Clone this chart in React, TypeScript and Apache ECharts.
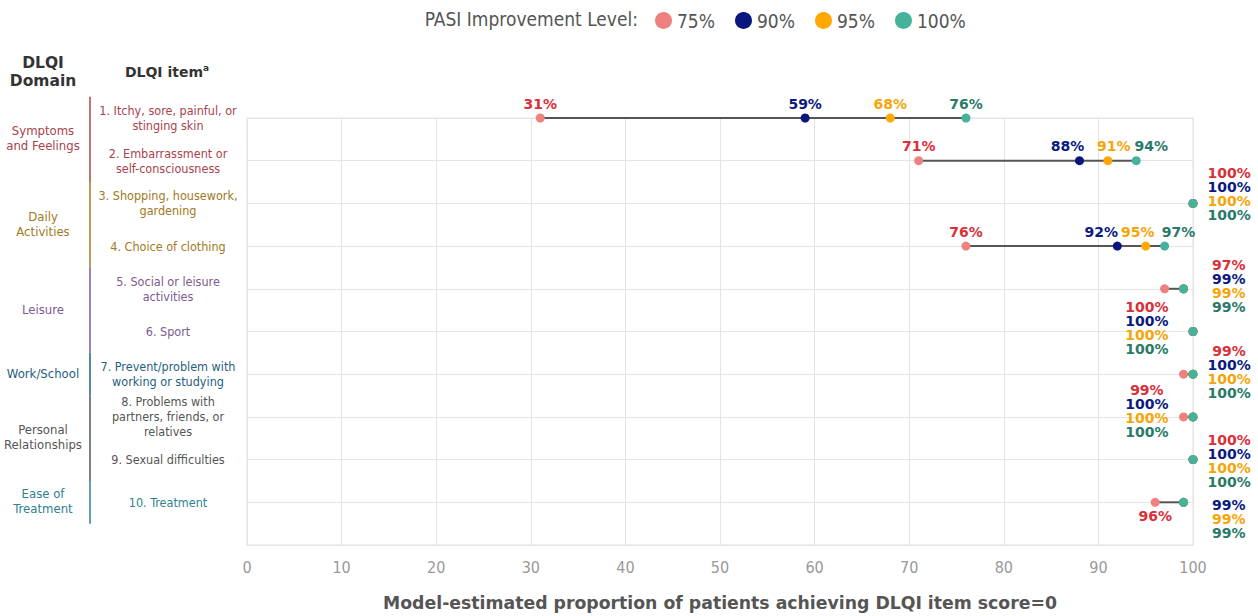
import React, { useEffect, useRef } from 'react';
import * as echarts from 'echarts';

// ---------- data ----------
const items = [
  '1. Itchy, sore, painful, or\nstinging skin',
  '2. Embarrassment or\nself-consciousness',
  '3. Shopping, housework,\ngardening',
  '4. Choice of clothing',
  '5. Social or leisure\nactivities',
  '6. Sport',
  '7. Prevent/problem with\nworking or studying',
  '8. Problems with\npartners, friends, or\nrelatives',
  '9. Sexual difficulties',
  '10. Treatment',
];
const itemDomain = [0, 0, 1, 1, 2, 2, 3, 4, 4, 5];

const domains = ['Symptoms\nand Feelings', 'Daily\nActivities', 'Leisure', 'Work/School', 'Personal\nRelationships', 'Ease of\nTreatment'];
const domainFirst = [1, 3, 5, 7, 8, 10];
const domainLast = [2, 4, 6, 7, 9, 10];

const levels = ['75%', '90%', '95%', '100%'];
const pasi75 = [31, 71, 100, 76, 97, 100, 99, 99, 100, 96];
const pasi90 = [59, 88, 100, 92, 99, 100, 100, 100, 100, 99];
const pasi95 = [68, 91, 100, 95, 99, 100, 100, 100, 100, 99];
const pasi100 = [76, 94, 100, 97, 99, 100, 100, 100, 100, 99];
const allValues = [pasi75, pasi90, pasi95, pasi100];

const xTicks = { min: 0, max: 100, interval: 10 };

// ---------- style ----------
const FONT = '"DejaVu Sans Condensed", "DejaVu Sans", sans-serif';
const BOLDFONT = '"DejaVu Sans", sans-serif';
const dotColors = ['#ee8080', '#08167e', '#ffa703', '#45b29b'];
const labelColors = ['#d9303a', '#0b1a80', '#f5a50a', '#2a7a68'];
const domainColors = ['#a8434c', '#a07a22', '#7b5b8f', '#1f5f7d', '#555555', '#2e8191'];

// label layout per row
const labelMode = ['top', 'top', 'stackR', 'top', 'stackR', 'stackL', 'stackR', 'stackL', 'stackR', 'split'];
const topDx: Record<number, number[]> = { 0: [0, 0, 0, 0], 1: [0, -12, 6, 15], 3: [0, -16, -8, 14] };
const stackDy = [0, 0, -9, 0, -3, -4, -2, -6, 1, 17];
const stackDist = [0, 0, 10, 0, 24, 20, 10, 20, 10, 24];

const pctLabelBase = { fontFamily: BOLDFONT, fontWeight: 'bold' as const, fontSize: 14 };

function labelFor(li: number, ri: number): any {
  const mode = labelMode[ri];
  const v = allValues[li][ri];
  if (mode === 'top') {
    return {
      show: true, position: 'top', distance: 3, offset: [topDx[ri][li], 0],
      formatter: v + '%', color: labelColors[li], ...pctLabelBase,
    };
  }
  if (mode === 'split' && li === 0) {
    return { show: true, position: 'bottom', distance: 2, formatter: v + '%', color: labelColors[0], ...pctLabelBase };
  }
  if (li === 3) {
    const lines = mode === 'split' ? [1, 2, 3] : [0, 1, 2, 3];
    const rich: any = {};
    lines.forEach((l) => {
      rich['l' + l] = { color: labelColors[l], ...pctLabelBase, lineHeight: 14, align: 'center' };
    });
    return {
      show: true,
      position: mode === 'stackL' ? 'left' : 'right',
      distance: stackDist[ri],
      offset: [0, stackDy[ri]],
      formatter: lines.map((l) => `{l${l}|${allValues[l][ri]}%}`).join('\n'),
      rich,
    };
  }
  return { show: false };
}

const connectorData = items.map((_, ri) => {
  const vals = allValues.map((a) => a[ri]);
  return [Math.min(...vals), Math.max(...vals), ri + 1];
}).filter((d) => d[0] !== d[1]);

const levelSeries = allValues.map((vals, li) => ({
  type: 'scatter',
  name: levels[li],
  symbol: 'circle',
  symbolSize: 9,
  z: 3 + li,
  itemStyle: { color: dotColors[li], opacity: 1 },
  data: vals.map((v, ri) => ({ value: [v, ri + 1], label: labelFor(li, ri) })),
}));

const option: any = {
  animation: false,
  backgroundColor: '#ffffff',
  textStyle: { fontFamily: FONT },
  legend: {
    data: levels,
    left: 650,
    top: 6,
    icon: 'circle',
    itemWidth: 17,
    itemHeight: 17,
    itemGap: 20,
    textStyle: { fontFamily: FONT, fontSize: 19, color: '#555555' },
    selectedMode: false,
  },
  grid: {
    left: 247, right: 65, top: 118, bottom: 71,
    show: true, borderColor: '#e2e2e2', borderWidth: 1,
  },
  xAxis: {
    type: 'value',
    min: xTicks.min, max: xTicks.max, interval: xTicks.interval,
    axisLine: { show: false },
    axisTick: { show: false },
    splitLine: { show: true, lineStyle: { color: '#e4e4e4', width: 1 } },
    axisLabel: { color: '#999999', fontSize: 16, margin: 14, fontFamily: FONT },
    name: 'Model-estimated proportion of patients achieving DLQI item score=0',
    nameLocation: 'middle',
    nameGap: 49,
    nameTextStyle: { fontFamily: BOLDFONT, fontWeight: 'bold', fontSize: 17.3, color: '#555555' },
  },
  yAxis: {
    type: 'value',
    inverse: true,
    min: 1, max: 11, interval: 1,
    axisLine: { show: false },
    axisTick: { show: false },
    splitLine: { show: true, lineStyle: { color: '#e4e4e4', width: 1 } },
    axisLabel: {
      formatter: (v: number) => items[v - 1] ?? '',
      color: (v: any) => domainColors[itemDomain[Number(v) - 1]] ?? '#555',
      align: 'center',
      margin: 79,
      fontSize: 12.5,
      lineHeight: 15,
      fontFamily: FONT,
    },
  },
  series: [
    {
      type: 'custom',
      name: 'range',
      z: 2,
      silent: true,
      data: connectorData,
      encode: { x: [0, 1], y: 2 },
      renderItem: (params: any, api: any) => {
        const s = api.coord([api.value(0), api.value(2)]);
        const e = api.coord([api.value(1), api.value(2)]);
        return {
          type: 'line',
          shape: { x1: s[0], y1: s[1], x2: e[0], y2: e[1] },
          style: { stroke: '#555555', lineWidth: 2 },
        };
      },
    },
    ...levelSeries,
  ],
};

export default function App() {
  const ref = useRef<HTMLDivElement>(null);
  useEffect(() => {
    const chart = echarts.init(ref.current!, null, { renderer: 'svg' });
    chart.setOption(option);
    const yp = (v: number) => chart.convertToPixel({ yAxisIndex: 0 }, v) as number;
    const graphics: any[] = [
      {
        type: 'text', x: 638, y: 19,
        style: { text: 'PASI Improvement Level:', align: 'right', verticalAlign: 'middle', fontFamily: FONT, fontSize: 19, fill: '#555555' },
      },
      {
        type: 'text', x: 43, y: 72,
        style: { text: 'DLQI\nDomain', align: 'center', verticalAlign: 'middle', fontFamily: BOLDFONT, fontWeight: 'bold', fontSize: 15.5, lineHeight: 18, fill: '#333333' },
      },
      {
        type: 'text', x: 167, y: 72,
        style: {
          text: '{m|DLQI item}{s|a}', align: 'center', verticalAlign: 'middle',
          rich: {
            m: { fontFamily: BOLDFONT, fontWeight: 'bold', fontSize: 14, fill: '#333333' },
            s: { fontFamily: BOLDFONT, fontWeight: 'bold', fontSize: 9, fill: '#333333', padding: [0, 0, 8, 0] },
          },
        },
      },
    ];
    domains.forEach((d, di) => {
      const yc = (yp(domainFirst[di]) + yp(domainLast[di])) / 2 - 1;
      graphics.push({
        type: 'text', x: 43, y: yc,
        style: { text: d, align: 'center', verticalAlign: 'middle', fontFamily: FONT, fontSize: 13, lineHeight: 15, fill: domainColors[di] },
      });
      graphics.push({
        type: 'line',
        shape: { x1: 90, y1: yp(domainFirst[di] - 0.5), x2: 90, y2: yp(domainLast[di] + 0.5) },
        style: { stroke: domainColors[di], lineWidth: 1.5 },
      });
    });
    chart.setOption({ graphic: graphics });
    return () => chart.dispose();
  }, []);
  return <div ref={ref} style={{ position: 'absolute', left: 0, top: 0, width: 1258, height: 616, background: '#fff' }} />;
}
